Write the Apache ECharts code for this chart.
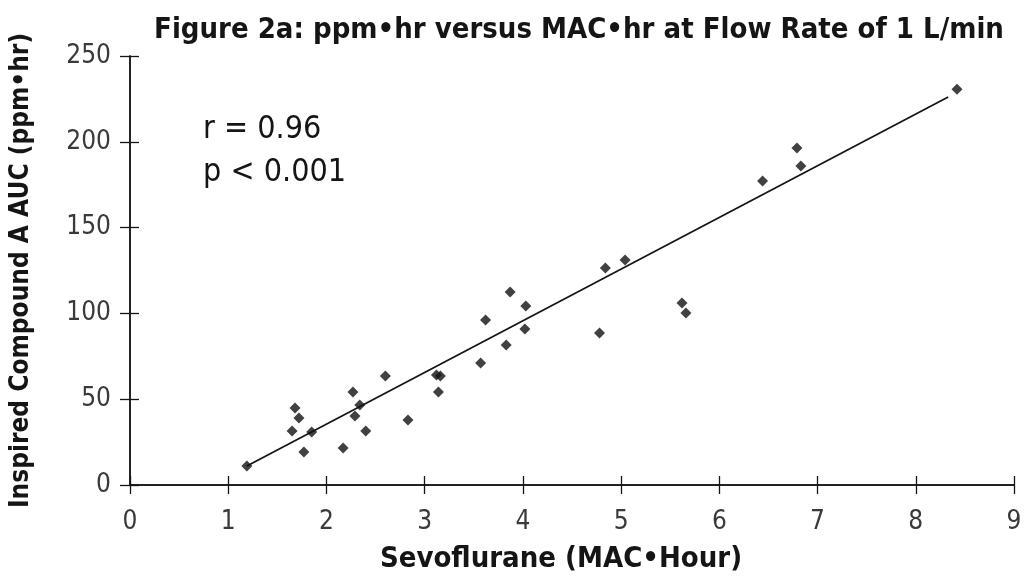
<!DOCTYPE html>
<html>
<head>
<meta charset="utf-8">
<script src="https://cdn.jsdelivr.net/npm/echarts@6/dist/echarts.min.js"></script>
<style>
html,body{margin:0;padding:0;background:#fff;}
#c{width:1025px;height:580px;}
</style>
</head>
<body>
<div id="c"></div>
<script>
// Data
const sevoMAC = [1.19, 1.65, 1.68, 1.72, 1.77, 1.85, 2.17, 2.27, 2.29, 2.34, 2.40, 2.60, 2.83, 3.12, 3.14, 3.16, 3.57, 3.62, 3.83, 3.87, 4.03, 4.02, 4.78, 4.84, 5.04, 5.62, 5.66, 6.44, 6.79, 6.83, 8.42];
const compoundA = [11.1, 31.4, 44.9, 39.1, 19.2, 30.9, 21.6, 54.2, 40.2, 46.6, 31.4, 63.5, 37.9, 64.1, 54.2, 63.5, 71.1, 96.2, 81.6, 112.5, 104.3, 90.9, 88.6, 126.5, 131.1, 106.0, 100.2, 177.2, 196.4, 185.9, 230.6];
const fitX = [1.19, 8.33];
const fitY = [11.1, 226.1];
const xTicks = [0, 1, 2, 3, 4, 5, 6, 7, 8, 9];
const yTicks = [0, 50, 100, 150, 200, 250];
const titleText = 'Figure 2a: ppm\u2022hr versus MAC\u2022hr at Flow Rate of 1 L/min';
const xName = 'Sevoflurane (MAC\u2022Hour)';
const yName = 'Inspired Compound A AUC (ppm\u2022hr)';
const statText = ['r = 0.96', 'p < 0.001'];

const FONT = '"Liberation Sans Narrow", "DejaVu Sans Condensed", "Roboto Condensed", sans-serif';
const INK = '#151515';
const LABEL = '#3a3a3a';

const chart = echarts.init(document.getElementById('c'), null, {renderer: 'canvas'});
const pts = sevoMAC.map((x, i) => [x, compoundA[i]]);
const fit = fitX.map((x, i) => [x, fitY[i]]);

const grid = {left: 129, right: 11, top: 56, bottom: 95};
const xBase = {type: 'value', min: 0, max: 9, interval: 1, splitLine: {show: false}};
const yBase = {type: 'value', min: 0, max: 250, interval: 50, splitLine: {show: false}};
const tickStyle = {color: INK, width: 1.3};

chart.setOption({
  animation: false,
  backgroundColor: '#fff',
  title: {
    text: titleText,
    left: 574, top: 11, textAlign: 'center',
    textStyle: {fontFamily: FONT, fontSize: 29, fontWeight: 'bold', color: INK}
  },
  grid: grid,
  xAxis: [
    Object.assign({}, xBase, {
      position: 'bottom', offset: 0,
      name: xName, nameLocation: 'middle', nameGap: 60,
      nameTextStyle: {fontFamily: FONT, fontSize: 29, fontWeight: 'bold', color: INK, padding: [0, 22, 0, 0]},
      axisLine: {show: true, onZero: false, lineStyle: {color: INK, width: 1.5}},
      axisTick: {show: true, length: 9, lineStyle: tickStyle},
      axisLabel: {fontFamily: FONT, fontSize: 26, color: LABEL, margin: 24,
        formatter: v => xTicks.includes(v) ? String(v) : ''}
    }),
    Object.assign({}, xBase, {
      position: 'bottom', offset: 0,
      axisLine: {show: true, onZero: false, lineStyle: {color: INK, width: 1.5}},
      axisTick: {show: true, inside: true, length: 9, lineStyle: tickStyle},
      axisLabel: {show: false}
    })
  ],
  yAxis: [
    Object.assign({}, yBase, {
      position: 'left', offset: 0,
      name: yName, nameLocation: 'middle', nameGap: 96, nameRotate: 90,
      nameTextStyle: {fontFamily: FONT, fontSize: 26, fontWeight: 'bold', color: INK},
      axisLine: {show: true, onZero: false, lineStyle: {color: INK, width: 1.5}},
      axisTick: {show: true, length: 10, lineStyle: tickStyle},
      axisLabel: {fontFamily: FONT, fontSize: 26, color: LABEL, margin: 19,
        formatter: v => yTicks.includes(v) ? String(v) : ''}
    }),
    Object.assign({}, yBase, {
      position: 'left', offset: 0,
      axisLine: {show: true, onZero: false, lineStyle: {color: INK, width: 1.5}},
      axisTick: {show: true, inside: true, length: 9, lineStyle: tickStyle},
      axisLabel: {show: false}
    })
  ],
  graphic: [{
    type: 'text', left: 203, top: 108,
    style: {text: statText.join('\n'), fontFamily: FONT, fontSize: 32, lineHeight: 43, fill: INK}
  }],
  series: [
    {
      type: 'line', data: fit, xAxisIndex: 0, yAxisIndex: 0,
      symbol: 'none', lineStyle: {color: INK, width: 1.8}, z: 2
    },
    {
      type: 'scatter', data: pts, xAxisIndex: 0, yAxisIndex: 0,
      symbol: 'diamond', symbolSize: 11, itemStyle: {color: '#111'}, z: 3
    },
    {
      // invisible twin so the inner-tick axes are not blank
      type: 'scatter', data: pts, xAxisIndex: 1, yAxisIndex: 1,
      symbolSize: 0, silent: true, itemStyle: {opacity: 0}, z: 0
    }
  ]
});
</script>
</body>
</html>
